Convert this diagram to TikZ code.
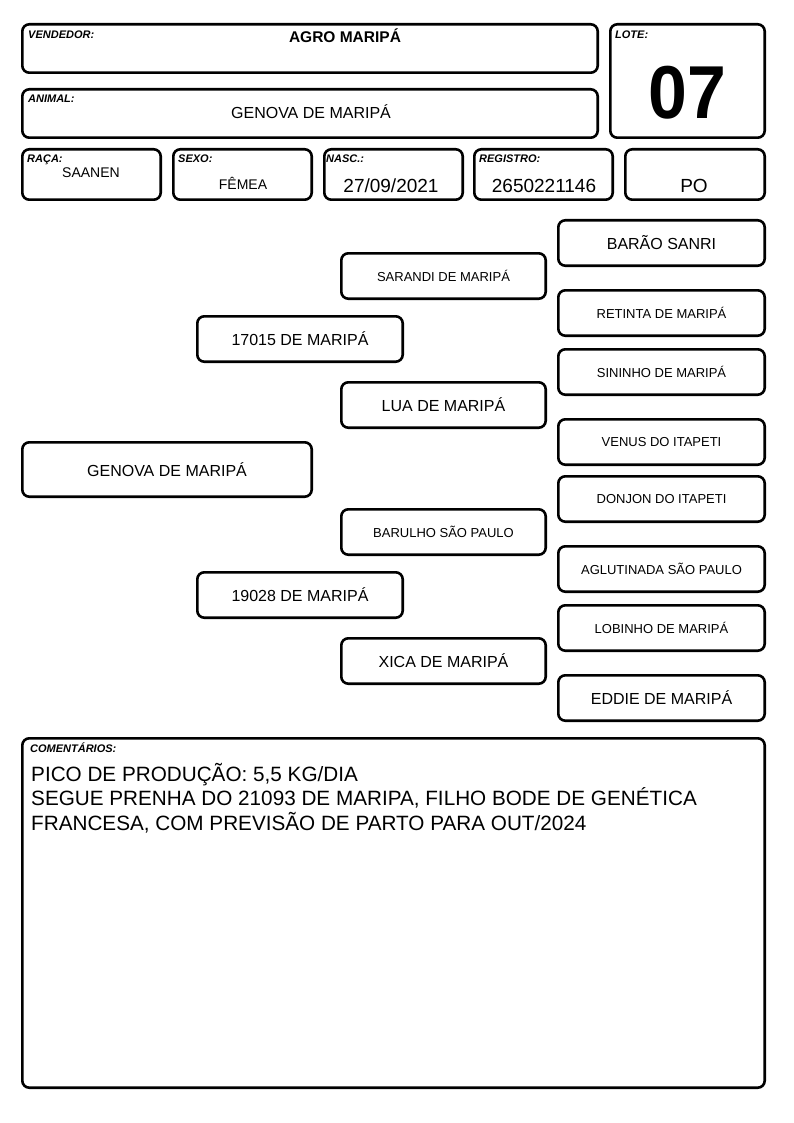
\documentclass[tikz,border=0pt]{standalone}
\usepackage{fontspec}
\setmainfont{Liberation Sans}

\tikzset{
  box/.style={draw, rounded corners=7pt, line width=2.6pt, inner sep=0pt},
  tag/.style={anchor=base west, inner sep=0pt, font=\fontsize{11}{11}\selectfont\bfseries\itshape},
  info/.style={anchor=base, inner sep=0pt, font=\fontsize{14}{14}\selectfont},
  infobig/.style={anchor=base, inner sep=0pt, font=\fontsize{19}{19}\selectfont},
  pedbig/.style={box, font=\fontsize{16}{16}\selectfont},
  pedsmall/.style={box, font=\fontsize{13}{13}\selectfont},
  gen2/.style={minimum width=205.4pt, minimum height=45.4pt},
  gen3/.style={minimum width=204.4pt, minimum height=45.4pt},
  gen4/.style={minimum width=206.4pt, minimum height=45.4pt}
}

\begin{document}
\begin{tikzpicture}[x=1pt,y=-1pt]

            \useasboundingbox[fill=white] (0,0) rectangle (794,1123);

            % cabecalho
            \node[box, minimum width=575.4pt, minimum height=48.4pt] (vendedor) at (310,48.5) {};
            \node[box, minimum width=154.4pt, minimum height=113.4pt] (lote) at (687.5,81) {};
            \node[box, minimum width=575.4pt, minimum height=48.4pt] (animal) at (310,113.5) {};

            \node[tag] (tvendedor) at (28,39) {VENDEDOR:};
            \node[anchor=base, inner sep=0pt, font=\fontsize{15.5}{15.5}\selectfont\bfseries] (nvendedor) at (345,43) {AGRO MARIPÁ};
            \node[tag] (tlote) at (615,39) {LOTE:};
            \node[anchor=base, inner sep=0pt, xscale=0.93, font=\fontsize{75}{75}\selectfont\bfseries] (nlote) at (687,119) {07};
            \node[tag] (tanimal) at (28,103) {ANIMAL:};
            \node[anchor=base, inner sep=0pt, font=\fontsize{16}{16}\selectfont] (nanimal) at (311,119) {GENOVA DE MARIPÁ};

            % dados
            \node[box, minimum width=138.4pt, minimum height=50.4pt] (raca) at (91.5,174.5) {};
            \node[box, minimum width=138.4pt, minimum height=50.4pt] (sexo) at (242.5,174.5) {};
            \node[box, minimum width=138.4pt, minimum height=50.4pt] (nasc) at (393.5,174.5) {};
            \node[box, minimum width=138.4pt, minimum height=50.4pt] (registro) at (543.5,174.5) {};
            \node[box, minimum width=139.4pt, minimum height=50.4pt] (po) at (695,174.5) {};

            \node[tag] (traca) at (27,163) {RAÇA:};
            \node[tag] (tsexo) at (178,163) {SEXO:};
            \node[tag] (tnasc) at (326,163) {NASC.:};
            \node[tag] (tregistro) at (479,163) {REGISTRO:};

            \node[info] (nraca) at (91,178) {SAANEN};
            \node[info] (nsexo) at (243,190) {FÊMEA};
            \node[infobig] (nnasc) at (391,193) {27/09/2021};
            \node[infobig] (nregistro) at (544,193) {2650221146};
            \node[infobig] (npo) at (694,193) {PO};

            % genealogia
            \node[pedbig, minimum width=289.4pt, minimum height=54.4pt] (g1) at (167,469.5) {GENOVA DE MARIPÁ};

            \node[pedbig, gen2] (pai) at (300,339) {17015 DE MARIPÁ};
            \node[pedbig, gen2] (mae) at (300,595) {19028 DE MARIPÁ};

            \node[pedsmall, gen3] (avo1) at (443.5,276) {SARANDI DE MARIPÁ};
            \node[pedbig, gen3] (avo2) at (443.5,405) {LUA DE MARIPÁ};
            \node[pedsmall, gen3] (avo3) at (443.5,532) {BARULHO SÃO PAULO};
            \node[pedbig, gen3] (avo4) at (443.5,661) {XICA DE MARIPÁ};

            \node[pedbig, gen4] (bis1) at (661.5,243) {BARÃO SANRI};
            \node[pedsmall, gen4] (bis2) at (661.5,313) {RETINTA DE MARIPÁ};
            \node[pedsmall, gen4] (bis3) at (661.5,372) {SININHO DE MARIPÁ};
            \node[pedsmall, gen4] (bis4) at (661.5,442) {VENUS DO ITAPETI};
            \node[pedsmall, gen4] (bis5) at (661.5,499) {DONJON DO ITAPETI};
            \node[pedsmall, gen4] (bis6) at (661.5,569) {AGLUTINADA SÃO PAULO};
            \node[pedsmall, gen4] (bis7) at (661.5,628) {LOBINHO DE MARIPÁ};
            \node[pedbig, gen4] (bis8) at (661.5,698) {EDDIE DE MARIPÁ};

            % comentarios
            \node[box, minimum width=742.4pt, minimum height=349.4pt] (coment) at (393.5,913) {};
            \node[tag] (tcoment) at (30,752) {COMENTÁRIOS:};
            \node[anchor=north west, inner sep=0pt, align=left, font=\fontsize{20.7}{24.5}\selectfont] (ncoment) at (31,763)
                {PICO DE PRODUÇÃO: 5,5 KG/DIA\\
                 SEGUE PRENHA DO 21093 DE MARIPA, FILHO BODE DE GENÉTICA\\
                 FRANCESA, COM PREVISÃO DE PARTO PARA OUT/2024};

            \end{tikzpicture}
\end{document}
